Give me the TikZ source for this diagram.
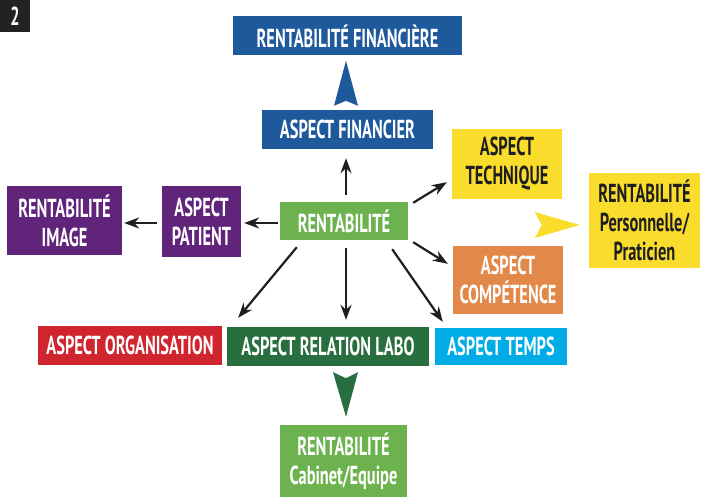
\documentclass[tikz,border=0pt]{standalone}
\usepackage{fontspec}
\setmainfont{PT Sans}[FakeStretch=0.63]
\usetikzlibrary{arrows.meta,calc}

\definecolor{finblue}{RGB}{30,90,155}
\definecolor{rentgreen}{RGB}{108,178,78}
\definecolor{labogreen}{RGB}{40,110,62}
\definecolor{orgared}{RGB}{208,36,46}
\definecolor{imgpurple}{RGB}{96,36,122}
\definecolor{jaune}{RGB}{250,220,44}
\definecolor{compet}{RGB}{226,136,72}
\definecolor{tempsblue}{RGB}{0,172,230}
\definecolor{badgegray}{RGB}{34,34,34}
\definecolor{darktext}{RGB}{30,30,30}

\tikzstyle{box} = [inner sep=0pt, align=center, text=white, font=\fontsize{26}{29}\selectfont\bfseries]
\tikzstyle{yellowbox} = [box, fill=jaune, text=darktext]
\tikzstyle{arr} = [line width=2.2pt, draw=darktext, -{Stealth[length=15pt,width=11pt]}]

\begin{document}
\begin{tikzpicture}[x=1pt,y=-1pt]
\useasboundingbox (0,0) rectangle (702,502);
%badge
\node[fill=badgegray, text=white, minimum width=30pt, minimum height=32pt, inner sep=0pt,
      font=\fontsize{26}{26}\selectfont\bfseries] (num) at (15,16) {2};
%centre
\node[box, fill=rentgreen, minimum width=128pt, minimum height=38pt] (rent) at (344,221) {RENTABILITÉ};
%begin top
\node[box, fill=finblue, minimum width=229pt, minimum height=39pt] (rentfin) at (347.5,36) {RENTABILITÉ FINANCIÈRE};
\node[box, fill=finblue, minimum width=171pt, minimum height=39pt] (finasp) at (347.5,129.5) {ASPECT FINANCIER};
%end top
%begin right
\node[yellowbox, minimum width=110pt, minimum height=70pt] (tech) at (507,164) {ASPECT\\TECHNIQUE};
\node[box, fill=compet, minimum width=110pt, minimum height=68pt] (comp) at (508,280) {ASPECT\\COMPÉTENCE};
\node[box, fill=tempsblue, minimum width=132pt, minimum height=37pt] (temps) at (501,346.5) {ASPECT TEMPS};
\node[yellowbox, minimum width=111pt, minimum height=95pt] (perso) at (644.5,220.5) {RENTABILITÉ\\Personnelle/\\Praticien};
%end right
%begin left
\node[box, fill=imgpurple, minimum width=115pt, minimum height=69pt] (image) at (64.5,220.5) {RENTABILITÉ\\IMAGE};
\node[box, fill=imgpurple, minimum width=79pt, minimum height=71pt] (patient) at (201.5,221.5) {ASPECT\\PATIENT};
%end left
%begin bottom
\node[box, fill=orgared, minimum width=184pt, minimum height=39pt] (orga) at (130,345.5) {ASPECT ORGANISATION};
\node[box, fill=labogreen, minimum width=202pt, minimum height=39pt] (labo) at (328,346.5) {ASPECT RELATION LABO};
\node[box, fill=rentgreen, minimum width=127pt, minimum height=72pt] (cabinet) at (343.5,461) {RENTABILITÉ\\Cabinet/Equipe};
%end bottom

%arrows
\draw[arr] ($(rent.north)+(2,-7)$) -- ($(finasp.south)+(-1.5,9)$);
\draw[arr] ($(rent.west)+(-2,2)$) -- ($(patient.east)+(3,1.5)$);
\draw[arr] ($(patient.west)+(-5,1.5)$) -- ($(image.east)+(2,2.5)$);
\draw[arr] ($(rent.north east)+(5,1)$) -- ($(tech.south west)+(-5,-17)$);
\draw[arr] ($(rent.south east)+(5,2)$) -- ($(comp.north west)+(-5,18)$);
\draw[arr] ($(rent.south east)+(-16,9)$) -- ($(temps.north west)+(8,-6)$);
\draw[arr] ($(rent.south)+(2,8)$) -- ($(labo.north)+(18,-7)$);
\draw[arr] ($(rent.south west)+(17,7)$) -- ($(orga.north east)+(16,-8)$);

%big heads
\fill[finblue] ($(rentfin.south)+(-1.5,5)$) -- ($(finasp.north)+(10.5,-4)$)
  -- ($(finasp.north)+(-1.5,-9)$) -- ($(finasp.north)+(-13.5,-4)$) -- cycle;
\fill[labogreen] ($(labo.south)+(5,6)$) -- ($(labo.south)+(18,12)$)
  -- ($(labo.south)+(30,6)$) -- ($(cabinet.north)+(2.5,-8)$) -- cycle;
\fill[jaune] ($(perso.west)+(-54,-8.5)$) -- ($(perso.west)+(-9,4.5)$)
  -- ($(perso.west)+(-54,17.5)$) -- ($(perso.west)+(-47,4.5)$) -- cycle;
\end{tikzpicture}
\end{document}
